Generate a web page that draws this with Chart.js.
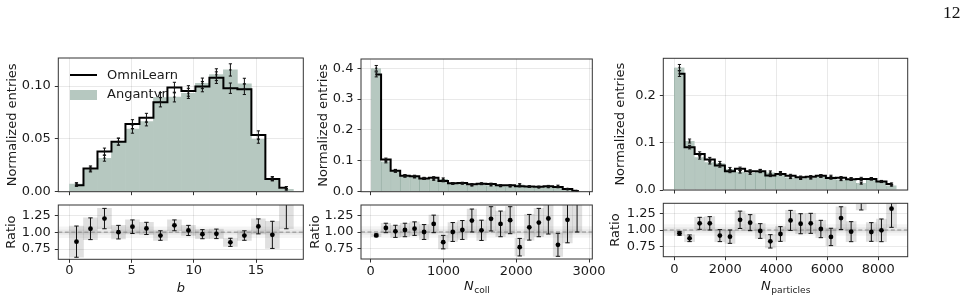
<!DOCTYPE html>
<html>
<head>
<meta charset="utf-8">
<script src="https://cdn.jsdelivr.net/npm/chart.js@4.4.0/dist/chart.umd.min.js"></script>
<style>
  html, body { margin: 0; padding: 0; background: #fff; }
  #wrap { position: relative; width: 971px; height: 301px; overflow: hidden; }
  #wrap canvas { position: absolute; left: 0; top: 0; }
  #page-num { position: absolute; left: 943px; top: 3.6px; font-family: "Liberation Serif", serif; font-size: 17.5px; line-height: 17.5px; color: #111; }
</style>
</head>
<body>
<div id="wrap">
  <canvas id="b-main" width="971" height="301"></canvas>
  <canvas id="b-ratio" width="971" height="301"></canvas>
  <canvas id="n-main" width="971" height="301"></canvas>
  <canvas id="n-ratio" width="971" height="301"></canvas>
  <canvas id="p-main" width="971" height="301"></canvas>
  <canvas id="p-ratio" width="971" height="301"></canvas>
  <div id="page-num">12</div>
</div>
<script>
// ---- data ----
const LEGEND_LABELS = ['OmniLearn', 'Angantyr'];

// impact parameter b
const B_CENTERS = [0.5625, 1.6875, 2.8125, 3.9375, 5.0625, 6.1875, 7.3125, 8.4375, 9.5625, 10.6875, 11.8125, 12.9375, 14.0625, 15.1875, 16.3125, 17.4375];
const B_OMNI = [0.0062, 0.022, 0.038, 0.0474, 0.064, 0.070, 0.0847, 0.0986, 0.0954, 0.0995, 0.108, 0.098, 0.097, 0.0537, 0.012, 0.0038];
const B_ANG = [0.0072, 0.021, 0.0317, 0.0474, 0.0593, 0.0663, 0.0892, 0.0896, 0.0931, 0.1026, 0.1108, 0.1153, 0.1021, 0.0495, 0.0125, 0.0022];
const B_OMNI_ERR = [0.0012, 0.0024, 0.0033, 0.0033, 0.0042, 0.0042, 0.0044, 0.005, 0.005, 0.0049, 0.0055, 0.0049, 0.005, 0.0039, 0.0018, 0.0011];
const B_ANG_ERR = [0.0014, 0.0023, 0.0028, 0.0033, 0.0039, 0.004, 0.0046, 0.0046, 0.0048, 0.005, 0.0056, 0.0058, 0.0053, 0.0036, 0.0018, 0.0007];
const B_RATIO = [0.86, 1.05, 1.20, 1.0, 1.08, 1.055, 0.95, 1.10, 1.025, 0.97, 0.975, 0.85, 0.95, 1.085, 0.96, 1.75];
const B_RATIO_ERR = [0.23, 0.16, 0.15, 0.10, 0.10, 0.09, 0.07, 0.08, 0.075, 0.067, 0.07, 0.06, 0.07, 0.11, 0.20, 0.70];

// N_coll
const N_CENTERS = [76, 208, 339, 470, 602, 733, 865, 996, 1127, 1259, 1390, 1522, 1653, 1784, 1916, 2047, 2179, 2310, 2441, 2573, 2704, 2836];
const N_OMNI = [0.38, 0.104, 0.068, 0.052, 0.050, 0.043, 0.045, 0.035, 0.027, 0.028, 0.024, 0.026, 0.025, 0.0205, 0.0205, 0.018, 0.017, 0.016, 0.018, 0.015, 0.009, 0.003];
const N_ANG = [0.40, 0.098, 0.0673, 0.0505, 0.0476, 0.043, 0.0402, 0.0412, 0.027, 0.0272, 0.0205, 0.0254, 0.0209, 0.0183, 0.0174, 0.0232, 0.0159, 0.014, 0.015, 0.0185, 0.0076, 0.0019];
const N_OMNI_ERR = [0.008, 0.0049, 0.0043, 0.0036, 0.0034, 0.0033, 0.0037, 0.0029, 0.0027, 0.0027, 0.0025, 0.0027, 0.0027, 0.0025, 0.0025, 0.0021, 0.0021, 0.0021, 0.0024, 0.0022, 0.0018, 0.0008];
const N_ANG_ERR = [0.009, 0.0046, 0.0042, 0.0035, 0.0032, 0.0033, 0.0033, 0.0034, 0.0027, 0.0026, 0.0021, 0.0026, 0.0022, 0.0022, 0.0021, 0.0028, 0.002, 0.0018, 0.002, 0.0027, 0.0015, 0.0005];
const N_RATIO = [0.95, 1.06, 1.01, 1.03, 1.05, 1.0, 1.12, 0.85, 1.0, 1.03, 1.17, 1.025, 1.195, 1.12, 1.175, 0.775, 1.07, 1.14, 1.20, 0.81, 1.18, 1.6];
const N_RATIO_ERR = [0.02, 0.07, 0.09, 0.10, 0.10, 0.11, 0.13, 0.10, 0.14, 0.14, 0.17, 0.15, 0.18, 0.19, 0.20, 0.13, 0.19, 0.21, 0.23, 0.17, 0.34, 0.6];

// N_particles
const P_CENTERS = [203, 599, 995, 1391, 1787, 2183, 2579, 2975, 3371, 3767, 4163, 4559, 4955, 5351, 5747, 6143, 6539, 6935, 7331, 7727, 8123, 8519];
const P_OMNI = [0.247, 0.091, 0.0766, 0.065, 0.052, 0.040, 0.045, 0.040, 0.040, 0.031, 0.034, 0.0305, 0.027, 0.028, 0.030, 0.0255, 0.026, 0.023, 0.0234, 0.0234, 0.018, 0.013];
const P_ANG = [0.26, 0.104, 0.0696, 0.059, 0.0568, 0.0444, 0.039, 0.036, 0.0406, 0.0373, 0.0362, 0.0267, 0.0247, 0.0255, 0.0296, 0.0285, 0.0221, 0.0236, 0.0146, 0.0241, 0.0181, 0.0098];
const P_OMNI_ERR = [0.006, 0.0037, 0.0044, 0.0042, 0.0036, 0.0032, 0.0036, 0.003, 0.0032, 0.0026, 0.0028, 0.0028, 0.0026, 0.0027, 0.0027, 0.0026, 0.0026, 0.0025, 0.0035, 0.0023, 0.0022, 0.002];
const P_ANG_ERR = [0.0065, 0.0042, 0.004, 0.0038, 0.0039, 0.0035, 0.0031, 0.0027, 0.0032, 0.0032, 0.003, 0.0025, 0.0024, 0.0024, 0.0027, 0.0029, 0.0022, 0.0026, 0.0022, 0.0024, 0.0022, 0.0015];
const P_RATIO = [0.95, 0.876, 1.10, 1.10, 0.916, 0.90, 1.153, 1.11, 0.985, 0.83, 0.94, 1.144, 1.094, 1.10, 1.015, 0.896, 1.178, 0.975, 1.6, 0.97, 0.995, 1.32];
const P_RATIO_ERR = [0.03, 0.05, 0.09, 0.10, 0.09, 0.10, 0.13, 0.12, 0.11, 0.10, 0.11, 0.15, 0.15, 0.15, 0.13, 0.13, 0.17, 0.15, 0.3, 0.14, 0.17, 0.28];

// tick labels / axis ranges
const RATIO_TICKS = [0.75, 1.00, 1.25];
const B_XTICKS = [0, 5, 10, 15];
const N_XTICKS = [0, 1000, 2000, 3000];
const P_XTICKS = [0, 2000, 4000, 6000, 8000];

// ---- styling ----
const W = 971, H = 301;
const FONT = "'DejaVu Sans', sans-serif";
const TXT = '#1a1a1a';
const AXIS = '#333333';
const GRID = 'rgba(0,0,0,0.085)';
const FILL = '#b6c8c0';
const EDGE = '#93aca1';

Chart.defaults.font.family = FONT;
Chart.defaults.font.size = 13;
Chart.defaults.color = TXT;

const framePlugin = {
  id: 'frame',
  afterDatasetsDraw(chart) {
    const { ctx, chartArea: a } = chart;
    ctx.save();
    ctx.strokeStyle = AXIS;
    ctx.lineWidth = 1;
    ctx.strokeRect(a.left, a.top, a.right - a.left, a.bottom - a.top);
    ctx.restore();
  }
};

const legendPlugin = {
  id: 'histLegend',
  beforeDatasetsDraw(chart) {
    const { ctx, chartArea: a } = chart;
    const x0 = a.left + 11.7;
    ctx.save();
    ctx.strokeStyle = '#000';
    ctx.lineWidth = 2;
    ctx.beginPath();
    ctx.moveTo(x0, a.top + 17);
    ctx.lineTo(x0 + 27, a.top + 17);
    ctx.stroke();
    ctx.fillStyle = FILL;
    ctx.fillRect(x0, a.top + 32, 27, 10);
    ctx.fillStyle = TXT;
    ctx.font = '13px ' + FONT;
    ctx.textBaseline = 'middle';
    ctx.fillText(LEGEND_LABELS[0], x0 + 37, a.top + 18);
    ctx.fillText(LEGEND_LABELS[1], x0 + 37, a.top + 37);
    ctx.restore();
  }
};

function xLabelPlugin(main, sub, baseline) {
  return {
    id: 'xlabel',
    afterDraw(chart) {
      const { ctx, chartArea: a } = chart;
      const cx = (a.left + a.right) / 2;
      ctx.save();
      ctx.fillStyle = TXT;
      ctx.textBaseline = 'alphabetic';
      ctx.textAlign = 'left';
      ctx.font = 'italic 13px ' + FONT;
      const w1 = ctx.measureText(main).width;
      ctx.font = '9.1px ' + FONT;
      const w2 = sub ? ctx.measureText(sub).width : 0;
      const x = cx - (w1 + w2) / 2;
      ctx.font = 'italic 13px ' + FONT;
      ctx.fillText(main, x, baseline);
      if (sub) {
        ctx.font = '9.1px ' + FONT;
        ctx.fillText(sub, x + w1 + 0.5, baseline + 2.6);
      }
      ctx.restore();
    }
  };
}

function xScale(min, max, ticksList, showLabels, pad, height) {
  return {
    type: 'linear', min, max, bounds: 'data', offset: false,
    border: { display: false },
    grid: { color: GRID, lineWidth: 1, tickColor: AXIS, tickLength: 3.5, tickWidth: 1, offset: false },
    afterBuildTicks: s => { s.ticks = ticksList.map(v => ({ value: v })); },
    ticks: { display: showLabels, padding: pad, maxRotation: 0, autoSkip: false, callback: v => String(Math.round(v)) },
    afterFit: s => { s.height = height; }
  };
}

function yScale(min, max, ticksList, digits, width, title) {
  return {
    type: 'linear', min, max, bounds: 'data', beginAtZero: false,
    border: { display: false },
    grid: { color: GRID, lineWidth: 1, tickColor: AXIS, tickLength: 3.5, tickWidth: 1 },
    afterBuildTicks: s => { s.ticks = ticksList.map(v => ({ value: v })); },
    ticks: { padding: 4, callback: v => Number(v).toFixed(digits) },
    title: { display: true, text: title, padding: 0 },
    afterFit: s => { s.width = width; }
  };
}

function pts(xs, ys) { return xs.map((x, i) => ({ x, y: ys[i] })); }

function errPts(xs, vals, errs) {
  const out = [];
  xs.forEach((x, i) => {
    out.push({ x, y: vals[i] - errs[i] }, { x, y: vals[i] + errs[i] }, { x, y: null });
  });
  return out;
}

function errSet(xs, vals, errs, cap, color, order) {
  return {
    type: 'line', data: errPts(xs, vals, errs), borderColor: color, borderWidth: 1,
    spanGaps: false, pointStyle: 'line', pointRadius: cap, pointBorderWidth: 1,
    pointBorderColor: color, pointHoverRadius: cap, fill: false, clip: 0, order
  };
}

function mainDatasets(xs, omni, ang, omniErr, angErr, edges) {
  return [
    { type: 'bar', data: pts(xs, ang), backgroundColor: FILL, borderColor: EDGE,
      borderWidth: edges ? { left: 0.8, right: 0, top: 0, bottom: 0 } : 0, borderSkipped: false,
      grouped: false, barPercentage: 1, categoryPercentage: 1, clip: 0, order: 9 },
    { type: 'line', data: pts(xs, omni), stepped: 'middle', borderColor: '#000', borderWidth: 2,
      pointRadius: 0, fill: false, clip: 0, order: 5 },
    errSet(xs, ang, angErr, 1.6, '#111', 4),
    errSet(xs, omni, omniErr, 1.6, '#111', 3),
    { type: 'scatter', data: pts(xs, ang), pointRadius: 1.1, backgroundColor: '#111', borderWidth: 0, clip: 0, order: 2 },
    { type: 'scatter', data: pts(xs, omni), pointRadius: 1.1, backgroundColor: '#111', borderWidth: 0, clip: 0, order: 1 }
  ];
}

function ratioDatasets(xs, r, rErr, xmin, xmax) {
  const band = (half, color, order) => ({
    type: 'line', data: [{ x: xmin, y: 1 + half }, { x: xmax, y: 1 + half }],
    fill: { value: 1 - half }, backgroundColor: color, borderWidth: 0, pointRadius: 0, clip: 0, order
  });
  return [
    band(0.085, 'rgba(0,0,0,0.045)', 12),
    band(0.04, 'rgba(0,0,0,0.05)', 11),
    { type: 'bar', data: xs.map((x, i) => ({ x, y: [r[i] - rErr[i], r[i] + rErr[i]] })),
      backgroundColor: 'rgba(0,0,0,0.12)', borderWidth: 0, grouped: false,
      barPercentage: 1, categoryPercentage: 1, clip: 0, order: 10 },
    { type: 'line', data: [{ x: xmin, y: 1 }, { x: xmax, y: 1 }], borderColor: '#8a8a8a', borderWidth: 1,
      borderDash: [4, 2.5], pointRadius: 0, fill: false, clip: 0, order: 6 },
    errSet(xs, r, rErr, 2.2, '#111', 3),
    { type: 'scatter', data: pts(xs, r), pointRadius: 2.4, backgroundColor: '#000', borderWidth: 0, clip: 0, order: 1 }
  ];
}

function makeChart(id, area, titleLeft, xHeight, datasets, xs, ys, plugins) {
  ys.afterFit = s => { s.width = area.l - titleLeft; };
  return new Chart(document.getElementById(id), {
    type: 'bar',
    data: { datasets },
    options: {
      responsive: false, animation: false, devicePixelRatio: 1, events: [],
      layout: { padding: { left: titleLeft, right: W - area.r, top: area.t, bottom: H - area.b - xHeight } },
      plugins: { legend: { display: false }, tooltip: { enabled: false } },
      scales: { x: xs, y: ys }
    },
    plugins: [framePlugin].concat(plugins || [])
  });
}

// ---- panel geometry (plot-area edges, px) ----
const B_AREA = { l: 58.3, r: 303.3 }, N_AREA = { l: 361, r: 592.3 }, P_AREA = { l: 663.3, r: 907.7 };

// b
makeChart('b-main', { ...B_AREA, t: 58, b: 191.7 }, 5.2, 0,
  mainDatasets(B_CENTERS, B_OMNI, B_ANG, B_OMNI_ERR, B_ANG_ERR, false),
  xScale(-0.9, 18.8, B_XTICKS, false, 0, 0),
  yScale(0, 0.1266, [0, 0.05, 0.10], 2, 0, 'Normalized entries'), [legendPlugin]);
makeChart('b-ratio', { ...B_AREA, t: 205, b: 259.3 }, 4.2, 30,
  ratioDatasets(B_CENTERS, B_RATIO, B_RATIO_ERR, -0.9, 18.8),
  xScale(-0.9, 18.8, B_XTICKS, true, 0.3, 30),
  yScale(0.6, 1.4, RATIO_TICKS, 2, 0, 'Ratio'), [xLabelPlugin('b', '', 292)]);

// N_coll
makeChart('n-main', { ...N_AREA, t: 59, b: 191.7 }, 315.5, 0,
  mainDatasets(N_CENTERS, N_OMNI, N_ANG, N_OMNI_ERR, N_ANG_ERR, true),
  xScale(-134, 3045, N_XTICKS, false, 0, 0),
  yScale(0, 0.43, [0, 0.1, 0.2, 0.3, 0.4], 1, 0, 'Normalized entries'));
makeChart('n-ratio', { ...N_AREA, t: 205, b: 259 }, 307.5, 30,
  ratioDatasets(N_CENTERS, N_RATIO, N_RATIO_ERR, -134, 3045),
  xScale(-134, 3045, N_XTICKS, true, 1.3, 30),
  yScale(0.6, 1.4, RATIO_TICKS, 2, 0, 'Ratio'), [xLabelPlugin('N', 'coll', 290)]);

// N_particles
makeChart('p-main', { ...P_AREA, t: 58.3, b: 190 }, 613.2, 0,
  mainDatasets(P_CENTERS, P_OMNI, P_ANG, P_OMNI_ERR, P_ANG_ERR, true),
  xScale(-431, 9153, P_XTICKS, false, 0, 0),
  yScale(0, 0.2796, [0, 0.1, 0.2], 1, 0, 'Normalized entries'));
makeChart('p-ratio', { ...P_AREA, t: 203.3, b: 256.7 }, 608.2, 30,
  ratioDatasets(P_CENTERS, P_RATIO, P_RATIO_ERR, -431, 9153),
  xScale(-431, 9153, P_XTICKS, true, 2, 30),
  yScale(0.6, 1.4, RATIO_TICKS, 2, 0, 'Ratio'), [xLabelPlugin('N', 'particles', 290)]);
</script>
</body>
</html>
